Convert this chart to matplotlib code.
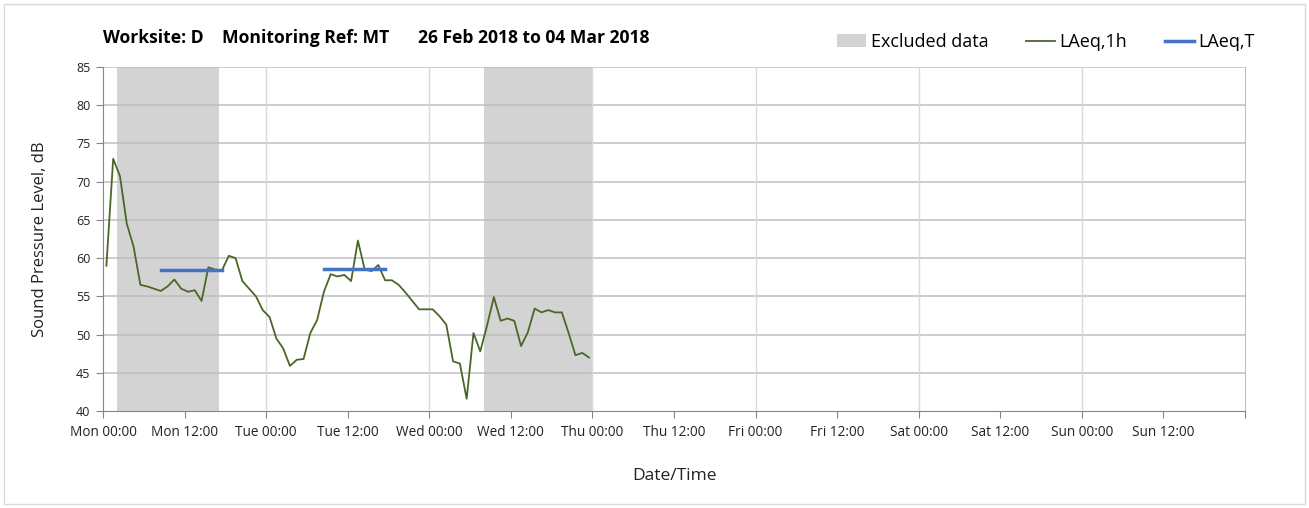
import numpy as np
import matplotlib
matplotlib.use("Agg")
import matplotlib.pyplot as plt
from matplotlib.patches import Patch, Rectangle
from matplotlib.lines import Line2D

plt.rcParams['font.family'] = ['Open Sans', 'DejaVu Sans']

# hourly LAeq,1h values, each plotted at the middle of its hour (hours from Mon 00:00)
hour_mid = [h + 0.5 for h in range(72)]
laeq_1h = [59.0, 73.0, 70.7, 64.5, 61.5, 56.5, 56.3, 56.0, 55.7, 56.3,
           57.2, 56.0, 55.6, 55.8, 54.4, 58.8, 58.5, 58.4, 60.3, 60.0,
           57.0, 56.0, 55.0, 53.2, 52.3, 49.5, 48.2, 45.9, 46.7, 46.8,
           50.2, 51.9, 55.6, 57.9, 57.6, 57.8, 57.0, 62.3, 58.5, 58.3,
           59.1, 57.1, 57.1, 56.5, 55.5, 54.4, 53.3, 53.3, 53.3, 52.4,
           51.3, 46.5, 46.2, 41.6, 50.2, 47.8, 51.2, 54.9, 51.8, 52.1,
           51.8, 48.5, 50.3, 53.4, 52.9, 53.2, 52.9, 52.9, 50.2, 47.3,
           47.6, 47.0]

# LAeq,T over the daytime periods
laeq_t_start = [8.5, 32.5]
laeq_t_end = [17.5, 41.5]
laeq_t_value = [58.4, 58.6]

# excluded data periods (hours)
excl_start = [2, 56]
excl_end = [17, 72]

tick_hours = list(range(0, 169, 12))
tick_labels = ['Mon 00:00', 'Mon 12:00', 'Tue 00:00', 'Tue 12:00', 'Wed 00:00',
               'Wed 12:00', 'Thu 00:00', 'Thu 12:00', 'Fri 00:00', 'Fri 12:00',
               'Sat 00:00', 'Sat 12:00', 'Sun 00:00', 'Sun 12:00', '']
day_hours = list(range(24, 168, 24))

green = '#4B6629'
blue = '#4472C4'
shade = '#D3D3D3'

fig = plt.figure(figsize=(13.09, 5.08), dpi=100)
ax = fig.add_axes([103/1309, 1 - 411/508, (1245-103)/1309, (411-67)/508])

for s, e in zip(excl_start, excl_end):
    ax.axvspan(s, e, color=shade, lw=0, zorder=0)

ax.set_xlim(0, 168)
ax.set_ylim(40, 85)
ax.set_yticks(range(40, 86, 5))
ax.set_xticks(tick_hours)
ax.set_xticklabels(tick_labels)

for y in range(45, 86, 5):
    ax.axhline(y, color='#BEBEBE', lw=1.1, zorder=1)
for d in day_hours:
    ax.axvline(d, color='#D9D9D9', lw=1.0, zorder=1)

ax.plot(hour_mid, laeq_1h, color=green, lw=1.3, zorder=3)
for s, e, v in zip(laeq_t_start, laeq_t_end, laeq_t_value):
    ax.plot([s, e], [v, v], color=blue, lw=2.5, zorder=4)

ax.spines['top'].set_visible(False)
ax.spines['right'].set_color('#BEBEBE')
ax.spines['left'].set_color('#868686')
ax.spines['bottom'].set_color('#868686')
ax.tick_params(axis='both', colors='#868686', labelcolor='#222222', length=5)
ax.tick_params(axis='x', labelsize=9.8, pad=5)
ax.tick_params(axis='y', labelsize=9, pad=4)

ax.set_ylabel('Sound Pressure Level, dB', fontsize=12, color='#222222', labelpad=20)
ax.set_xlabel('Date/Time', fontsize=12.5, color='#222222', labelpad=20)

fig.text(103/1309, 1 - 38/508, 'Worksite: D', fontsize=12.6, fontweight='bold', va='center')
fig.text(222/1309, 1 - 38/508, 'Monitoring Ref: MT', fontsize=12.6, fontweight='bold', va='center')
fig.text(418/1309, 1 - 38/508, '26 Feb 2018 to 04 Mar 2018', fontsize=12.6, fontweight='bold', va='center')

handles = [Patch(color=shade, lw=0),
           Line2D([], [], color=green, lw=1.3),
           Line2D([], [], color=blue, lw=2.5)]
fig.legend(handles, ['Excluded data', 'LAeq,1h', 'LAeq,T'], loc='center right',
           bbox_to_anchor=(1255/1309, 1 - 42/508), ncol=3, frameon=False,
           fontsize=13, handlelength=1.6, handleheight=0.75, handletextpad=0.25,
           columnspacing=2.1, borderpad=0, borderaxespad=0)

fig.patches.append(Rectangle((4/1309, 4/508), 1301/1309, 500/508, transform=fig.transFigure,
                             fill=False, edgecolor='#D9D9D9', lw=1))

fig.savefig('out.png', dpi=100)
